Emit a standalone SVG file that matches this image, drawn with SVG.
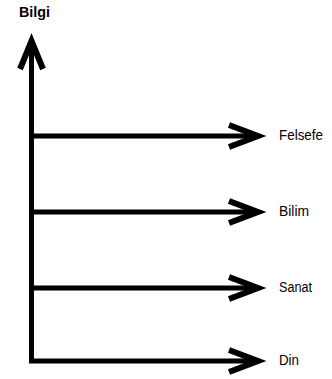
<svg xmlns="http://www.w3.org/2000/svg" width="332" height="379" viewBox="0 0 332 379">
<defs>
<style>
.ln{fill:none;stroke:#000;stroke-width:5;stroke-linejoin:miter;stroke-linecap:butt}
.hd{fill:none;stroke:#000;stroke-width:6;stroke-linejoin:miter;stroke-miterlimit:10}
.lb{font-family:"Liberation Sans",Arial,sans-serif;font-size:15.5px;fill:#000}
.tt{font-family:"Liberation Sans",Arial,sans-serif;font-size:15px;font-weight:bold;fill:#000}
</style>
</defs>
<rect width="332" height="379" fill="#fff"/>
<g id="connectors">
<polyline class="ln" points="31.5,44 31.5,361 258,361"/>
<line class="ln" x1="31.5" y1="136" x2="258" y2="136"/>
<line class="ln" x1="31.5" y1="212" x2="258" y2="212"/>
<line class="ln" x1="31.5" y1="288" x2="258" y2="288"/>
<polyline class="hd" points="20,69 31.5,41 43,69"/>
<polyline class="hd" points="229,125 258,136 229,147"/>
<polyline class="hd" points="229,201 258,212 229,223"/>
<polyline class="hd" points="229,277 258,288 229,299"/>
<polyline class="hd" points="229,350 258,361 229,372"/>
</g>
<g id="bilgi"><text class="tt" x="19" y="17" textLength="31" lengthAdjust="spacingAndGlyphs">Bilgi</text></g>
<g id="felsefe"><text class="lb" x="279" y="140" textLength="44" lengthAdjust="spacingAndGlyphs">Felsefe</text></g>
<g id="bilim"><text class="lb" x="279" y="216" textLength="30" lengthAdjust="spacingAndGlyphs">Bilim</text></g>
<g id="sanat"><text class="lb" x="279" y="292" textLength="33" lengthAdjust="spacingAndGlyphs">Sanat</text></g>
<g id="din"><text class="lb" x="279" y="365" textLength="20" lengthAdjust="spacingAndGlyphs">Din</text></g>
</svg>
